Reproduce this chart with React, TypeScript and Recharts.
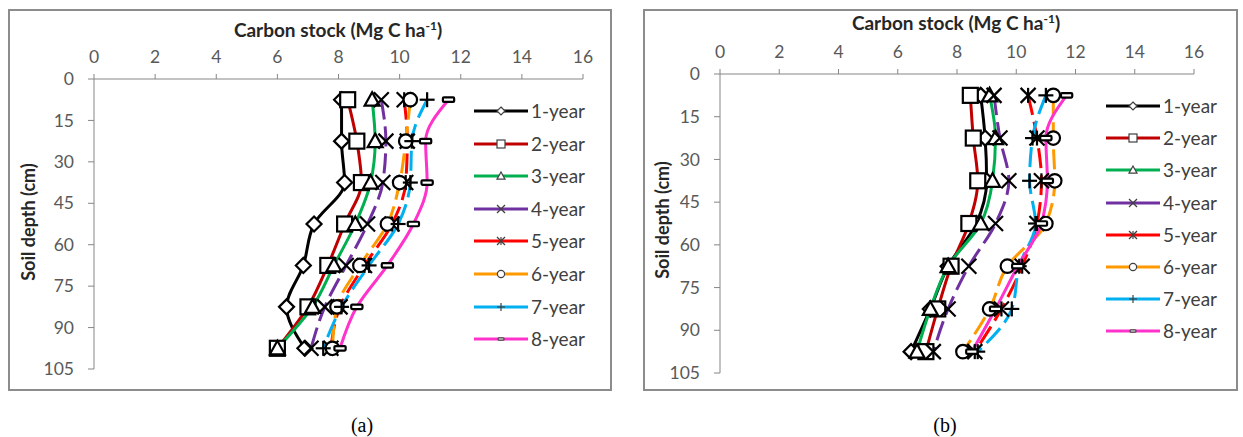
import React from 'react';
import { LineChart, Line, XAxis, YAxis, Label } from 'recharts';

const depths = [7.5, 22.5, 37.5, 52.5, 67.5, 82.5, 97.5];
const depthTicks = [0, 15, 30, 45, 60, 75, 90, 105];
const stockTicks = [0, 2, 4, 6, 8, 10, 12, 14, 16];
const seriesNames = ['1-year', '2-year', '3-year', '4-year', '5-year', '6-year', '7-year', '8-year'];

// panel (a)
const a1 = [8.1, 8.1, 8.2, 7.2, 6.85, 6.3, 6.9];
const a2 = [8.3, 8.6, 8.75, 8.2, 7.65, 7.0, 6.0];
const a3 = [9.1, 9.2, 9.05, 8.55, 7.85, 7.15, 6.0];
const a4 = [9.4, 9.55, 9.45, 8.95, 8.25, 7.55, 7.1];
const a5 = [10.15, 10.25, 10.2, 9.75, 8.85, 8.05, 7.75];
const a6 = [10.35, 10.2, 10.0, 9.6, 8.7, 7.95, 7.8];
const a7 = [10.9, 10.4, 10.35, 9.95, 9.0, 8.1, 7.5];
const a8 = [11.6, 10.85, 10.9, 10.45, 9.6, 8.6, 8.05];

// panel (b)
const b1 = [8.8, 8.95, 9.0, 8.65, 7.7, 7.1, 6.45];
const b2 = [8.45, 8.55, 8.7, 8.4, 7.8, 7.35, 6.95];
const b3 = [9.1, 9.3, 9.2, 8.8, 7.7, 7.1, 6.65];
const b4 = [9.25, 9.45, 9.75, 9.3, 8.4, 7.7, 7.2];
const b5 = [10.4, 10.7, 10.85, 10.7, 10.2, 9.5, 8.6];
const b6 = [11.25, 11.25, 11.3, 11.0, 9.7, 9.1, 8.2];
const b7 = [11.0, 10.55, 10.45, 10.65, 10.1, 9.85, 8.7];
const b8 = [11.7, 11.0, 11.05, 10.85, 10.05, 9.3, 8.5];

const colors = ['#000000', '#C00000', '#00B050', '#7030A0', '#FF0000', '#FF9900', '#00B0F0', '#FF33CC'];
const shapes = ['diamond', 'square', 'triangle', 'x', 'star', 'circle', 'plus', 'dash'];
const dashes = [undefined, undefined, undefined, '20 7', '20 7', '20 7', '20 7', undefined];

const FONT = 'Lato, "Open Sans", sans-serif';

function buildRows(series: number[][]) {
  return depths.map((depth, i) => {
    const row: Record<string, number> = { depth };
    series.forEach((s, k) => {
      row[`s${k}`] = s[i];
    });
    return row;
  });
}

const rowsA = buildRows([a1, a2, a3, a4, a5, a6, a7, a8]);
const rowsB = buildRows([b1, b2, b3, b4, b5, b6, b7, b8]);

function Marker({ shape, cx, cy, s, stroke, sw }: { shape: string; cx: number; cy: number; s: number; stroke: string; sw: number }) {
  const common = { stroke, strokeWidth: sw, fill: '#fff' };
  switch (shape) {
    case 'diamond':
      return <polygon points={`${cx},${cy - s} ${cx + s},${cy} ${cx},${cy + s} ${cx - s},${cy}`} {...common} />;
    case 'square':
      return <rect x={cx - s} y={cy - s} width={2 * s} height={2 * s} {...common} />;
    case 'triangle':
      return <polygon points={`${cx},${cy - s} ${cx + s},${cy + s * 0.8} ${cx - s},${cy + s * 0.8}`} {...common} />;
    case 'x':
      return (
        <g stroke={stroke} strokeWidth={sw}>
          <line x1={cx - s} y1={cy - s} x2={cx + s} y2={cy + s} />
          <line x1={cx - s} y1={cy + s} x2={cx + s} y2={cy - s} />
        </g>
      );
    case 'star':
      return (
        <g stroke={stroke} strokeWidth={sw}>
          <line x1={cx - s} y1={cy - s} x2={cx + s} y2={cy + s} />
          <line x1={cx - s} y1={cy + s} x2={cx + s} y2={cy - s} />
          <line x1={cx} y1={cy - s} x2={cx} y2={cy + s} />
        </g>
      );
    case 'circle':
      return <circle cx={cx} cy={cy} r={s * 0.9} {...common} />;
    case 'plus':
      return (
        <g stroke={stroke} strokeWidth={sw}>
          <line x1={cx - s} y1={cy} x2={cx + s} y2={cy} />
          <line x1={cx} y1={cy - s} x2={cx} y2={cy + s} />
        </g>
      );
    default:
      return <rect x={cx - s * 0.75} y={cy - s * 0.3} width={s * 1.5} height={s * 0.6} rx={1} {...common} />;
  }
}

type Geom = {
  width: number;
  height: number;
  margin: { top: number; right: number; bottom: number; left: number };
  titleX: number;
  titleY: number;
  ylabelX: number;
  ylabelY: number;
};

function Panel({ rows, geom }: { rows: Record<string, number>[]; geom: Geom }) {
  const tick = { fill: '#595959', fontSize: 17.5, fontFamily: FONT };
  return (
    <LineChart layout="vertical" width={geom.width} height={geom.height} data={rows} margin={geom.margin}>
      <XAxis
        type="number"
        orientation="top"
        domain={[0, 16]}
        ticks={stockTicks}
        height={40}
        tickSize={5}
        tickMargin={11}
        stroke="#868686"
        tick={tick}
        allowDataOverflow
      >
        <Label
          content={() => (
            <text x={geom.titleX} y={geom.titleY} textAnchor="middle" fontFamily={FONT} fontWeight={700} fontSize={19} fill="#262626">
              Carbon stock (Mg C ha
              <tspan fontSize={12} dy={-7}>-1</tspan>
              <tspan dy={7}>)</tspan>
            </text>
          )}
        />
      </XAxis>
      <YAxis
        type="number"
        dataKey="depth"
        domain={[0, 105]}
        ticks={depthTicks}
        width={60}
        tickSize={6}
        tickMargin={14}
        stroke="#868686"
        tick={tick}
        allowDataOverflow
      >
        <Label
          content={() => (
            <text
              x={geom.ylabelX}
              y={geom.ylabelY}
              transform={`rotate(-90 ${geom.ylabelX} ${geom.ylabelY})`}
              textAnchor="middle"
              dominantBaseline="central"
              fontFamily={FONT}
              fontWeight={700}
              fontSize={18}
              fill="#262626"
            >
              Soil depth (cm)
            </text>
          )}
        />
      </YAxis>
      {seriesNames.map((name, k) => (
        <Line
          key={name}
          name={name}
          dataKey={`s${k}`}
          type="monotone"
          stroke={colors[k]}
          strokeWidth={3}
          strokeDasharray={dashes[k]}
          isAnimationActive={false}
          dot={(p: any) => (
            <g key={`${name}-${p.index}`}>
              <Marker shape={shapes[k]} cx={p.cx} cy={p.cy} s={7.5} stroke="#000" sw={2.2} />
            </g>
          )}
          activeDot={false}
        />
      ))}
    </LineChart>
  );
}

function LegendBox({ left, top, step }: { left: number; top: number; step: number }) {
  return (
    <div style={{ position: 'absolute', left, top }}>
      {seriesNames.map((name, k) => (
        <div key={name} style={{ position: 'absolute', left: 0, top: k * step, height: 22, display: 'flex', alignItems: 'center', whiteSpace: 'nowrap' }}>
          <svg width={54} height={22} style={{ display: 'block' }}>
            <line x1={0} y1={11} x2={54} y2={11} stroke={colors[k]} strokeWidth={3} />
            <Marker shape={shapes[k]} cx={27} cy={11} s={4} stroke="#404040" sw={1.2} />
          </svg>
          <span style={{ marginLeft: 3, fontFamily: FONT, fontSize: 19, color: '#404040', lineHeight: '22px' }}>{name}</span>
        </div>
      ))}
    </div>
  );
}

const geomA: Geom = {
  width: 620,
  height: 400,
  margin: { top: 39, right: 37, bottom: 31, left: 34 },
  titleX: 338,
  titleY: 37,
  ylabelX: 28,
  ylabelY: 222,
};

const geomB: Geom = {
  width: 623,
  height: 400,
  margin: { top: 34, right: 49, bottom: 27, left: 40 },
  titleX: 336,
  titleY: 30,
  ylabelX: 42,
  ylabelY: 220,
};

export default function App() {
  return (
    <div style={{ position: 'absolute', left: 0, top: 0, width: 1243, height: 437, background: '#fff', overflow: 'hidden' }}>
      <div style={{ position: 'absolute', left: 8, top: 9, width: 600, height: 378, border: '2px solid #8c8c8c' }} />
      <div style={{ position: 'absolute', left: 643, top: 9, width: 591, height: 378, border: '2px solid #8c8c8c' }} />
      <div style={{ position: 'absolute', left: 0, top: 0 }}>
        <Panel rows={rowsA} geom={geomA} />
      </div>
      <div style={{ position: 'absolute', left: 620, top: 0 }}>
        <Panel rows={rowsB} geom={geomB} />
      </div>
      <LegendBox left={474} top={100} step={32.6} />
      <LegendBox left={1106} top={95} step={32.2} />
      <div style={{ position: 'absolute', left: 342, top: 414, width: 40, textAlign: 'center', fontFamily: '"Liberation Serif", serif', fontSize: 20 }}>(a)</div>
      <div style={{ position: 'absolute', left: 925, top: 414, width: 40, textAlign: 'center', fontFamily: '"Liberation Serif", serif', fontSize: 20 }}>(b)</div>
    </div>
  );
}
